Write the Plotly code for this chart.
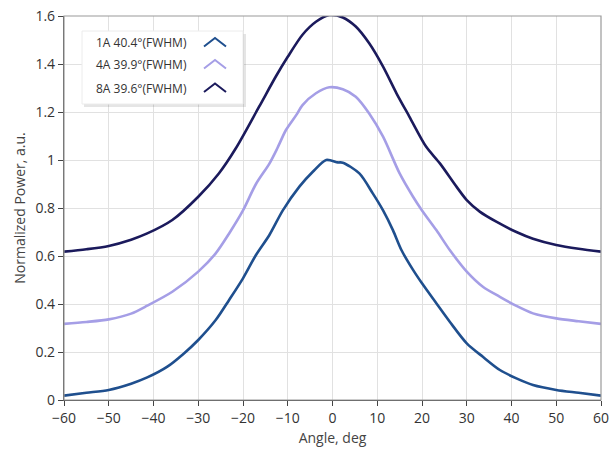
import plotly.graph_objects as go

# ---- data ----
names = ["1A 40.4°(FWHM)", "4A 39.9°(FWHM)", "8A 39.6°(FWHM)"]
colors = ["#1f4f8e", "#a59ee6", "#1b1a5c"]

angle_1a = [-60, -55, -50, -45, -41.4, -36.9, -33.2, -30, -26.1, -23.1, -20, -17.1, -14.1, -11.1, -7.4,
            -4.4, -1.4, 1.2, 2.3, 6.0, 9.0, 11.3, 13.5, 15.4, 18, 20, 23.2, 26.2, 30, 33.6, 37.4, 41.1,
            44.8, 50, 55, 60]
power_1a = [0.018, 0.03, 0.042, 0.068, 0.094, 0.139, 0.194, 0.25, 0.333, 0.417, 0.507, 0.604, 0.6875, 0.79, 0.889,
            0.951, 1.0, 0.99, 0.989, 0.944, 0.861, 0.79, 0.708, 0.625, 0.542, 0.486, 0.403, 0.326, 0.236, 0.18,
            0.125, 0.09, 0.0625, 0.042, 0.03, 0.018]

angle_4a = [-60, -55, -50, -45, -41.4, -35.8, -30, -26.1, -23.1, -20, -17.1, -14.1, -12.3, -10.4, -8.0, -6.7,
            -3.7, -0.7, 2.3, 5.2, 8.2, 11.3, 15, 18, 20, 23.2, 26.2, 30, 33.6, 37.4, 41.1, 44.8, 50, 55, 60]
power_4a = [0.317, 0.325, 0.336, 0.36, 0.393, 0.451, 0.535, 0.611, 0.694, 0.79, 0.90, 0.985, 1.05, 1.125, 1.19, 1.229,
            1.278, 1.303, 1.295, 1.264, 1.194, 1.097, 0.944, 0.847, 0.79, 0.708, 0.625, 0.535, 0.472, 0.43, 0.392,
            0.361, 0.34, 0.328, 0.317]

angle_8a = [-60, -55, -50, -45, -41.4, -35.8, -30, -25.4, -21.6, -16.4, -12.6, -10, -6.7, -3.7, -0.7,
            2.3, 5.2, 8.2, 11.3, 14.3, 17.2, 20.9, 24, 27.7, 30, 32.9, 36.6, 41.1, 44.8, 50, 55, 60]
power_8a = [0.618, 0.628, 0.642, 0.668, 0.694, 0.75, 0.847, 0.944, 1.049, 1.222, 1.35, 1.43, 1.522, 1.576, 1.604,
            1.594, 1.556, 1.486, 1.389, 1.278, 1.18, 1.056, 0.986, 0.889, 0.833, 0.785, 0.743, 0.70, 0.672, 0.646,
            0.63, 0.618]

x_ticks = list(range(-60, 61, 10))
y_ticks = [0, 0.2, 0.4, 0.6, 0.8, 1, 1.2, 1.4, 1.6]

series = [(angle_1a, power_1a), (angle_4a, power_4a), (angle_8a, power_8a)]

fig = go.Figure()
for (xs, ys), nm, col in zip(series, names, colors):
    fig.add_trace(go.Scatter(x=xs, y=ys, mode="lines", name=nm,
                             line=dict(color=col, width=2.6, shape="spline", smoothing=0.8),
                             showlegend=False))

W, H = 613, 453
ml, mr, mt, mb = 64, 12, 16, 53
pw, ph = W - ml - mr, H - mt - mb


def px(x):  # screen pixel -> paper
    return (x - ml) / pw


def py(y):
    return (H - mb - y) / ph


FONT = "Open Sans, Noto Sans, sans-serif"

shapes = []
# plot border (top/right)
shapes.append(dict(type="rect", xref="paper", yref="paper", x0=0, x1=1, y0=0, y1=1,
                   line=dict(color="#9a9a9a", width=1.2), layer="above"))
# legend shadow + box
shapes.append(dict(type="rect", xref="paper", yref="paper", x0=px(84), x1=px(246), y0=py(107), y1=py(34),
                   fillcolor="rgba(0,0,0,0.10)", line=dict(width=0), layer="above"))
shapes.append(dict(type="rect", xref="paper", yref="paper", x0=px(82), x1=px(243), y0=py(104), y1=py(31),
                   fillcolor="white", line=dict(color="#ececec", width=1), layer="above"))

annotations = []
row_y = [42.5, 64.5, 88]
for ry, nm, col in zip(row_y, names, colors):
    annotations.append(dict(xref="paper", yref="paper", x=px(189), y=py(ry), text=nm, showarrow=False,
                            xanchor="right", yanchor="middle",
                            font=dict(family=FONT, size=12, color="#333")))
    path = "M {:.4f},{:.4f} L {:.4f},{:.4f} L {:.4f},{:.4f}".format(
        px(204), py(ry + 4), px(215), py(ry - 4.5), px(226), py(ry + 4))
    shapes.append(dict(type="path", xref="paper", yref="paper", path=path,
                       line=dict(color=col, width=2), layer="above"))

fig.update_layout(
    width=W, height=H,
    margin=dict(l=ml, r=mr, t=mt, b=mb, autoexpand=False),
    paper_bgcolor="white", plot_bgcolor="white",
    font=dict(family=FONT, size=14, color="#333"),
    shapes=shapes, annotations=annotations,
    xaxis=dict(range=[-60, 60], tickvals=x_ticks, ticks="outside", ticklen=5, tickcolor="#444",
               showgrid=True, gridcolor="#e1e1e1", gridwidth=1, zeroline=False, automargin=False,
               ticklabeloverflow="allow",
               showline=True, linecolor="#444", linewidth=1.2,
               title=dict(text="Angle, deg", standoff=7, font=dict(size=14, color="#444")),
               tickfont=dict(size=14, color="#333")),
    yaxis=dict(range=[0, 1.6], tickvals=y_ticks, ticks="outside", ticklen=5, tickcolor="#444",
               showgrid=True, gridcolor="#e1e1e1", gridwidth=1, zeroline=False, automargin=False,
               ticklabeloverflow="allow",
               showline=True, linecolor="#444", linewidth=1.2,
               title=dict(text="Normalized Power, a.u.", standoff=6, font=dict(size=14, color="#444")),
               tickfont=dict(size=14, color="#333")),
)

fig.write_html("out.html", config={"displayModeBar": False},
               post_script="document.body.style.margin='0';")
